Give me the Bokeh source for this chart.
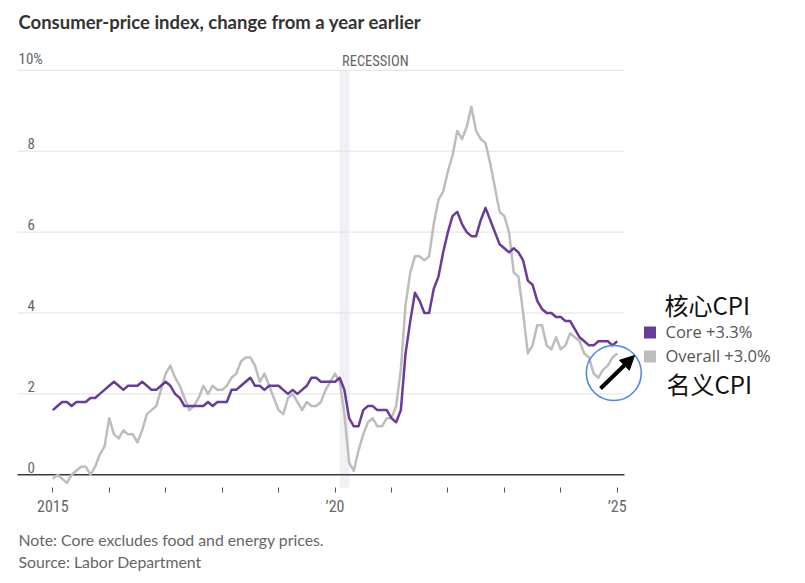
from bokeh.plotting import figure
from bokeh.layouts import column
from bokeh.models import Range1d, FixedTicker, Arrow, NormalHead
from bokeh.core.properties import value
from bokeh.embed import file_html
from bokeh.resources import INLINE

# ---------------- data ----------------
start_year = 2015
overall = [
    -0.1, 0.0, -0.1, -0.2, 0.0, 0.1, 0.2, 0.2, 0.0, 0.2, 0.5, 0.7,   # 2015
    1.4, 1.0, 0.9, 1.1, 1.0, 1.0, 0.8, 1.1, 1.5, 1.6, 1.7, 2.1,      # 2016
    2.5, 2.7, 2.4, 2.2, 1.9, 1.6, 1.7, 1.9, 2.2, 2.0, 2.2, 2.1,      # 2017
    2.1, 2.2, 2.4, 2.5, 2.8, 2.9, 2.9, 2.7, 2.3, 2.5, 2.2, 1.9,      # 2018
    1.6, 1.5, 1.9, 2.0, 1.8, 1.6, 1.8, 1.7, 1.7, 1.8, 2.1, 2.3,      # 2019
    2.5, 2.3, 1.5, 0.3, 0.1, 0.6, 1.0, 1.3, 1.4, 1.2, 1.2, 1.4,      # 2020
    1.4, 1.7, 2.6, 4.2, 5.0, 5.4, 5.4, 5.3, 5.4, 6.2, 6.8, 7.0,      # 2021
    7.5, 7.9, 8.5, 8.3, 8.6, 9.1, 8.5, 8.3, 8.2, 7.7, 7.1, 6.5,      # 2022
    6.4, 6.0, 5.0, 4.9, 4.0, 3.0, 3.2, 3.7, 3.7, 3.2, 3.1, 3.4,      # 2023
    3.1, 3.2, 3.5, 3.4, 3.3, 3.0, 2.9, 2.5, 2.4, 2.6, 2.7, 2.9,      # 2024
    3.0,                                                             # 2025
]
core = [
    1.6, 1.7, 1.8, 1.8, 1.7, 1.8, 1.8, 1.8, 1.9, 1.9, 2.0, 2.1,      # 2015
    2.2, 2.3, 2.2, 2.1, 2.2, 2.2, 2.2, 2.3, 2.2, 2.1, 2.1, 2.2,      # 2016
    2.3, 2.2, 2.0, 1.9, 1.7, 1.7, 1.7, 1.7, 1.7, 1.8, 1.7, 1.8,      # 2017
    1.8, 1.8, 2.1, 2.1, 2.2, 2.3, 2.4, 2.2, 2.2, 2.1, 2.2, 2.2,      # 2018
    2.2, 2.1, 2.0, 2.1, 2.0, 2.1, 2.2, 2.4, 2.4, 2.3, 2.3, 2.3,      # 2019
    2.3, 2.4, 2.1, 1.4, 1.2, 1.2, 1.6, 1.7, 1.7, 1.6, 1.6, 1.6,      # 2020
    1.4, 1.3, 1.6, 3.0, 3.8, 4.5, 4.3, 4.0, 4.0, 4.6, 4.9, 5.5,      # 2021
    6.0, 6.4, 6.5, 6.2, 6.0, 5.9, 5.9, 6.3, 6.6, 6.3, 6.0, 5.7,      # 2022
    5.6, 5.5, 5.6, 5.5, 5.3, 4.8, 4.7, 4.3, 4.1, 4.0, 4.0, 3.9,      # 2023
    3.9, 3.8, 3.8, 3.6, 3.4, 3.3, 3.2, 3.2, 3.3, 3.3, 3.3, 3.2,      # 2024
    3.3,                                                             # 2025
]
months = [start_year + i / 12 for i in range(len(core))]

ytick_values = [0, 2, 4, 6, 8, 10]
ytick_labels = ["0", "2", "4", "6", "8", "10%"]
xtick_years = [2015, 2016, 2017, 2018, 2019, 2020, 2021, 2022, 2023, 2024, 2025]
xtick_labels = ["2015", "", "", "", "", "\u201920", "", "", "", "", "\u201925"]
recession_start = 2020 + 1 / 12
recession_end = 2020 + 3.1 / 12
legend_labels = ["Core +3.3%", "Overall +3.0%"]
note_lines = ["Note: Core excludes food and energy prices.", "Source: Labor Department"]

PURPLE = "#683c98"
GRAY = "#bdbdbd"
NARROW = value("Roboto Condensed, Roboto, sans-serif")

# ---------------- geometry (page px -> data) ----------------
SX = 56.44     # px per year
SY = 40.45     # px per percentage point
FRAME_W = 789
FRAME_H = 487
MAIN_H = 527
X0 = 2015 - 52.3 / SX
X1 = X0 + FRAME_W / SX
Ytop = 474.3 / SY
Ybot = -(FRAME_H - 474.3) / SY


def X(px):
    return X0 + px / SX


def Y(py):
    return Ytop - py / SY


p = figure(width=FRAME_W, height=MAIN_H, output_backend="svg", toolbar_location=None,
           x_range=Range1d(X0, X1), y_range=Range1d(Ybot, Ytop),
           y_axis_location=None, min_border_left=0, min_border_right=0,
           min_border_top=0, min_border_bottom=MAIN_H - FRAME_H)
p.outline_line_color = None
p.xgrid.visible = False
p.ygrid.visible = False
p.background_fill_color = "white"

# x axis
ax = p.xaxis[0]
ax.ticker = FixedTicker(ticks=xtick_years)
ax.major_label_overrides = {y: l for y, l in zip(xtick_years, xtick_labels)}
ax.axis_line_color = None
ax.major_tick_line_color = "#555555"
ax.major_tick_out = 5
ax.major_tick_in = 0
ax.minor_tick_line_color = None
ax.major_label_text_font = "Roboto Condensed, Roboto, sans-serif"
ax.major_label_text_font_size = "16px"
ax.major_label_text_color = "#666666"
ax.major_label_standoff = 4

# recession band
p.quad(left=[recession_start], right=[recession_end], bottom=[Ybot - 1], top=[10],
       fill_color="#f0f1f4", line_color=None)
p.text(x=[X(341.5)], y=[Y(60.5)], text=["RECESSION"], text_font=NARROW,
       text_font_size="14.5px", text_color="#666666", text_baseline="middle", text_align="left")

# grid lines
grid_vals = [v for v in ytick_values if v != 0]
p.segment(x0=[X(17)] * len(grid_vals), x1=[X(624)] * len(grid_vals), y0=grid_vals, y1=grid_vals,
          line_color="#e2e2e2", line_width=1)
p.segment(x0=[X(17)], x1=[X(624)], y0=[0], y1=[0], line_color="#3a3a3a", line_width=1.5)

# y labels
ylab_x = [X(18) if l.endswith("%") else X(27) for l in ytick_labels]
p.text(x=ylab_x, y=ytick_values, text=ytick_labels, text_font=NARROW,
       text_font_size="15px", text_color="#666666", text_baseline="bottom", text_align="left",
       y_offset=-2)

# lines
p.line(months, overall, line_color=GRAY, line_width=2.5, line_join="round")
p.line(months, core, line_color=PURPLE, line_width=2.5, line_join="round")

# title
p.text(x=[X(18)], y=[Y(21)], text=["Consumer-price index, change from a year earlier"],
       text_font=value("Lato"), text_font_style="bold", text_font_size="18.5px",
       text_color="#333333", text_baseline="middle", text_align="left")

# legend
p.scatter(x=[X(649.5)] * 2, y=[Y(332), Y(356)], marker="square", size=12,
          fill_color=[PURPLE, GRAY], line_color=None)
p.text(x=[X(665)] * 2, y=[Y(331), Y(355)], text=legend_labels, text_font=value("Open Sans"),
       text_font_size="16.5px", text_color="#555555", text_baseline="middle", text_align="left")
p.text(x=[X(664), X(666)], y=[Y(304), Y(383)], text=["核心CPI", "名义CPI"],
       text_font=value("Noto Sans CJK SC"), text_font_size="24px", text_color="#111111",
       text_baseline="middle", text_align="left")

# highlight circle + arrow
p.scatter(x=[X(613.3)], y=[Y(372.5)], marker="circle", size=55, fill_color=None,
          line_color="#4f87f2", line_width=1.6)
p.add_layout(Arrow(end=NormalHead(size=14, fill_color="black", line_color="black"),
                   x_start=X(600), y_start=Y(388), x_end=X(634), y_end=Y(355),
                   line_color="black", line_width=4))

# notes figure (page-pixel coordinates)
NOTE_H = 48
n = figure(width=FRAME_W, height=NOTE_H, output_backend="svg", toolbar_location=None,
           x_range=Range1d(0, FRAME_W), y_range=Range1d(NOTE_H, 0),
           x_axis_location=None, y_axis_location=None,
           min_border_left=0, min_border_right=0, min_border_top=0, min_border_bottom=0)
n.outline_line_color = None
n.xgrid.visible = False
n.ygrid.visible = False
n.text(x=[18, 18], y=[539 - MAIN_H, 561 - MAIN_H], text=note_lines, text_font=value("Lato"),
       text_font_size="15.8px", text_color="#666666", text_baseline="middle", text_align="left")

open("out.html", "w").write(file_html(column(p, n, spacing=0), INLINE))
